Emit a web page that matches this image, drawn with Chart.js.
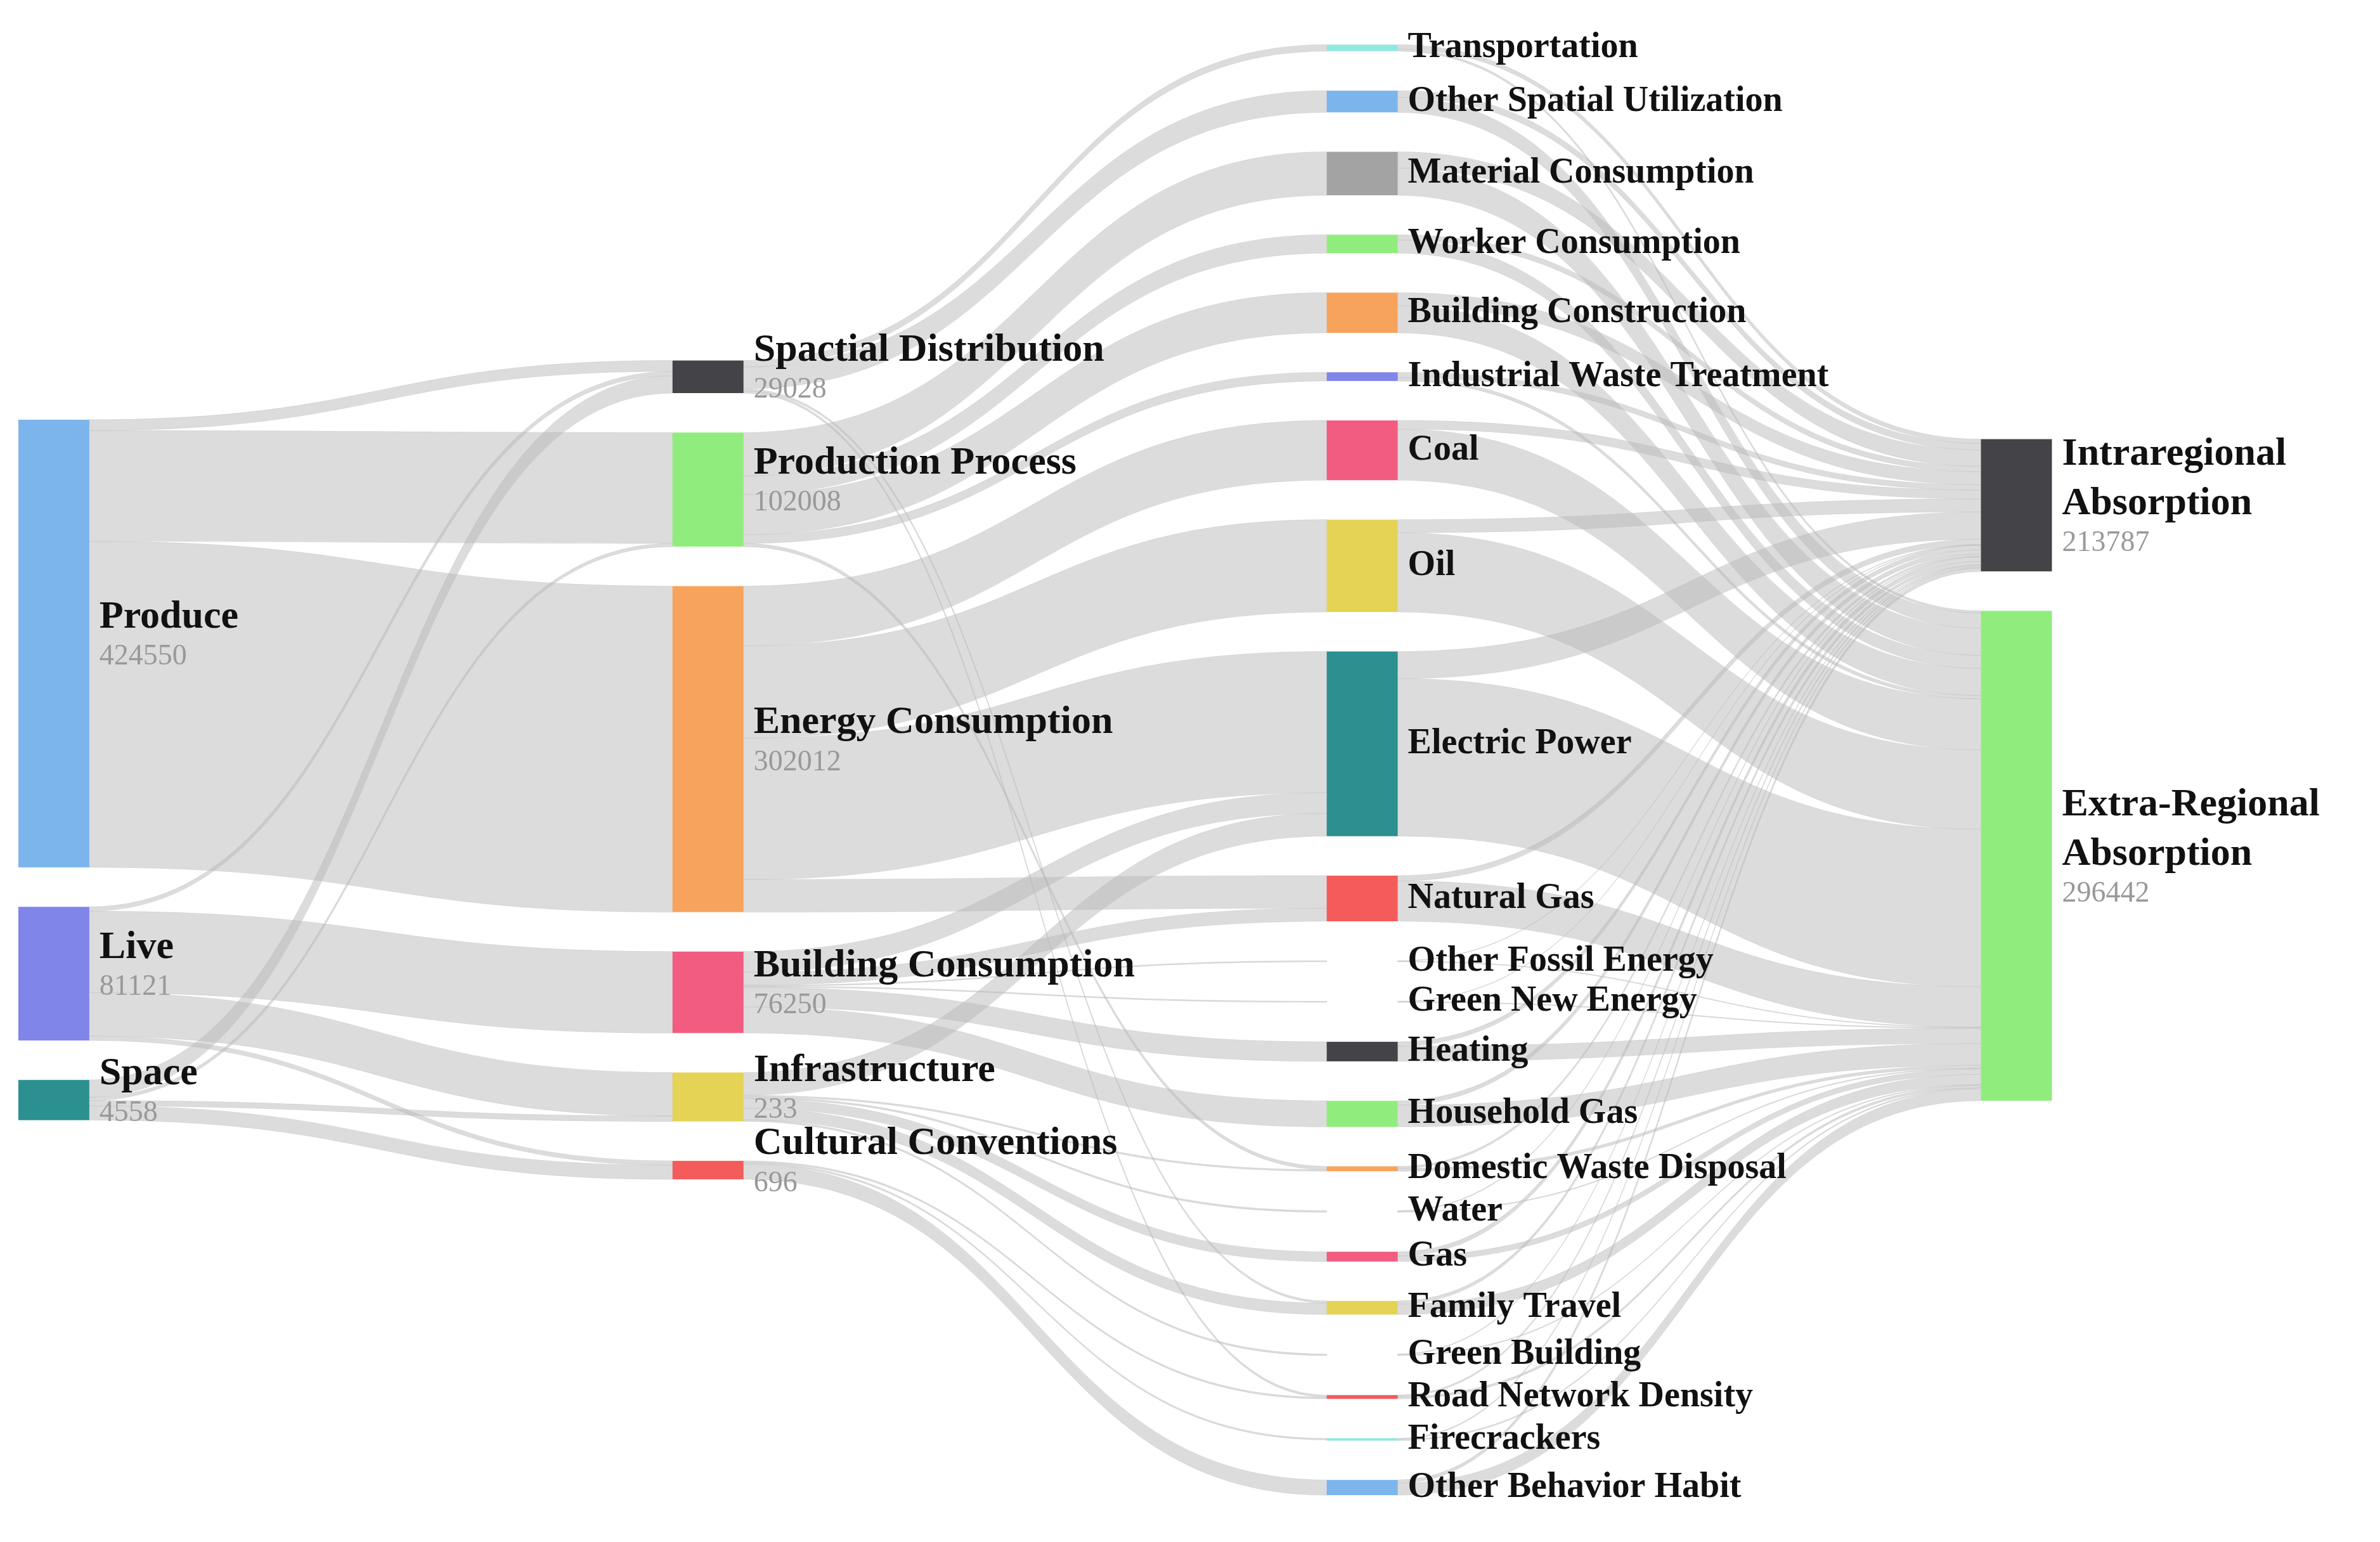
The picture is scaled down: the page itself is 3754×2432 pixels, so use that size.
<!DOCTYPE html>
<html><head><meta charset="utf-8">
<script src="https://cdn.jsdelivr.net/npm/chart.js@4"></script>
<style>html,body{margin:0;padding:0;background:#fff}canvas{display:block}</style>
</head><body>
<canvas id="c" width="3754" height="2432"></canvas>
<script>
const nodeNames = ["Produce","Live","Space",
 "Spactial Distribution","Production Process","Energy Consumption","Building Consumption","Infrastructure","Cultural Conventions",
 "Transportation","Other Spatial Utilization","Material Consumption","Worker Consumption","Building Construction","Industrial Waste Treatment",
 "Coal","Oil","Electric Power","Natural Gas","Other Fossil Energy","Green New Energy","Heating","Household Gas",
 "Domestic Waste Disposal","Water","Gas","Family Travel","Green Building","Road Network Density","Firecrackers","Other Behavior Habit",
 "Intraregional\nAbsorption","Extra-Regional\nAbsorption"];
const nodeColumns = [0,0,0, 1,1,1,1,1,1, 2,2,2,2,2,2,2,2,2,2,2,2,2,2,2,2,2,2,2,2,2,2, 3,3];
const nodeColors = ["#7cb5ec","#8085e9","#2b908f",
 "#434348","#90ed7d","#f7a35c","#f15c80","#e4d354","#f45b5b",
 "#91e8e1","#7cb5ec","#a3a3a3","#90ed7d","#f7a35c","#8085e9",
 "#f15c80","#e4d354","#2b908f","#f45b5b","#91e8e1","#7cb5ec","#434348","#90ed7d",
 "#f7a35c","#8085e9","#f15c80","#e4d354","#2b908f","#f45b5b","#91e8e1","#7cb5ec",
 "#434348","#90ed7d"];
const nodeValueLabels = {"Produce":"424550","Live":"81121","Space":"4558","Spactial Distribution":"29028",
 "Production Process":"102008","Energy Consumption":"302012","Building Consumption":"76250","Infrastructure":"233",
 "Cultural Conventions":"696","Intraregional\nAbsorption":"213787","Extra-Regional\nAbsorption":"296442"};

const linkSources = [
 "Produce","Produce","Produce","Live","Live","Live","Live","Space","Space","Space","Space",
 "Spactial Distribution","Spactial Distribution","Spactial Distribution","Spactial Distribution",
 "Production Process","Production Process","Production Process","Production Process","Production Process",
 "Energy Consumption","Energy Consumption","Energy Consumption","Energy Consumption",
 "Building Consumption","Building Consumption","Building Consumption","Building Consumption","Building Consumption","Building Consumption",
 "Infrastructure","Infrastructure","Infrastructure","Infrastructure","Infrastructure","Infrastructure",
 "Cultural Conventions","Cultural Conventions","Cultural Conventions"];
const linkTargets = [
 "Spactial Distribution","Production Process","Energy Consumption","Spactial Distribution","Building Consumption","Infrastructure","Cultural Conventions",
 "Spactial Distribution","Production Process","Infrastructure","Cultural Conventions",
 "Transportation","Other Spatial Utilization","Family Travel","Road Network Density",
 "Material Consumption","Worker Consumption","Building Construction","Industrial Waste Treatment","Domestic Waste Disposal",
 "Coal","Oil","Electric Power","Natural Gas",
 "Electric Power","Natural Gas","Other Fossil Energy","Green New Energy","Heating","Household Gas",
 "Electric Power","Gas","Domestic Waste Disposal","Water","Green Building","Family Travel",
 "Other Behavior Habit","Firecrackers","Road Network Density"];
const linkValues = [
 10000,102000,300000, 4000,75000,40000,4000, 16000,3000,5000,13000,
 6000,20000,2000,2000,
 40000,17000,37000,8000,3000,
 55000,85000,130000,30000,
 19000,12000,1000,1000,18000,24000,
 21000,9000,1500,1500,1500,10500,
 14000,1500,1500];

const col2Names = nodeNames.filter((n,i)=>nodeColumns[i]===2);
const intraValues = [4000,6000,15000,5000,12000,5000,8000,12000,25000,5000,400,400,4000,4000,2000,700,4000,3000,700,1500,1000,3000];
const extraValues = [2000,14000,25000,12000,25000,3000,47000,73000,145000,37000,600,600,14000,20000,2500,800,5000,9500,800,2000,1000,11000];
col2Names.forEach((n,i)=>{
  linkSources.push(n); linkTargets.push("Intraregional\nAbsorption"); linkValues.push(intraValues[i]);
  linkSources.push(n); linkTargets.push("Extra-Regional\nAbsorption"); linkValues.push(extraValues[i]);
});

// layout in value units
const PAD = 36300, CENTER = 708500, NODE_W = 0.1085;
const N = nodeNames.length;
const inSum = new Array(N).fill(0), outSum = new Array(N).fill(0);
const L = linkValues.map((v,k)=>({s:nodeNames.indexOf(linkSources[k]), t:nodeNames.indexOf(linkTargets[k]), v}));
L.forEach(l=>{outSum[l.s]+=l.v; inSum[l.t]+=l.v;});
const nodeVal = nodeNames.map((n,i)=>Math.max(inSum[i],outSum[i]));
const nodeY0 = new Array(N);
for (let c=0;c<4;c++){
  const idx = nodeNames.map((n,i)=>i).filter(i=>nodeColumns[i]===c);
  const total = idx.reduce((a,i)=>a+nodeVal[i],0)+PAD*(idx.length-1);
  let y = CENTER-total/2;
  idx.forEach(i=>{nodeY0[i]=y; y+=nodeVal[i]+PAD;});
}
// link offsets
const outOrder = {}, inOrder = {};
L.forEach(l=>{l.sy=0;l.ty=0;});
for (let i=0;i<N;i++){
  let off = nodeY0[i];
  L.filter(l=>l.s===i).sort((a,b)=>nodeY0[a.t]-nodeY0[b.t]).forEach(l=>{l.sy=off; off+=l.v;});
  off = nodeY0[i];
  L.filter(l=>l.t===i).sort((a,b)=>nodeY0[a.s]-nodeY0[b.s]).forEach(l=>{l.ty=off; off+=l.v;});
}

const sankeyPlugin = {
  id:'sankey',
  afterDatasetsDraw(chart){
    const ctx = chart.ctx, xs = chart.scales.x, ys = chart.scales.y;
    ctx.save();
    // links
    L.forEach(l=>{
      const x0 = xs.getPixelForValue(nodeColumns[l.s]+NODE_W), x1 = xs.getPixelForValue(nodeColumns[l.t]);
      const a0 = ys.getPixelForValue(l.sy), a1 = ys.getPixelForValue(l.sy+l.v);
      const b0 = ys.getPixelForValue(l.ty), b1 = ys.getPixelForValue(l.ty+l.v);
      const mx = (x0+x1)/2;
      ctx.beginPath();
      ctx.moveTo(x0,a0);
      ctx.bezierCurveTo(mx,a0,mx,b0,x1,b0);
      ctx.lineTo(x1,b1);
      ctx.bezierCurveTo(mx,b1,mx,a1,x0,a1);
      ctx.closePath();
      ctx.fillStyle='rgba(185,185,185,0.5)';
      ctx.fill();
      ctx.strokeStyle='rgba(185,185,185,0.35)'; ctx.lineWidth=1; ctx.stroke();
    });
    // nodes + labels
    for (let i=0;i<N;i++){
      const c = nodeColumns[i];
      const x0 = xs.getPixelForValue(c), x1 = xs.getPixelForValue(c+NODE_W);
      let y0 = ys.getPixelForValue(nodeY0[i]), y1 = ys.getPixelForValue(nodeY0[i]+nodeVal[i]);
      if (y1-y0<4){ const m=(y0+y1)/2; y0=m-2; y1=m+2; }
      ctx.fillStyle = nodeColors[i];
      if (nodeVal[i]>1500) ctx.fillRect(x0,y0,x1-x0,y1-y0);
      const cy = (y0+y1)/2, lx = x1+16;
      const lines = nodeNames[i].split("\n");
      const num = nodeValueLabels[nodeNames[i]];
      ctx.textBaseline='middle'; ctx.textAlign='left';
      if (c===2){
        ctx.font='bold 56px "Liberation Serif"'; ctx.fillStyle='#111';
        ctx.fillText(lines[0],lx,cy);
      } else {
        const lh = 78, nh = 62;
        const total = lines.length*lh + nh;
        let y = cy - total/2 + lh/2 - 10;
        ctx.font='bold 62px "Liberation Serif"'; ctx.fillStyle='#111';
        lines.forEach(t=>{ctx.fillText(t,lx,y); y+=lh;});
        ctx.font='46px "Liberation Serif"'; ctx.fillStyle='#999';
        ctx.fillText(num,lx,y-lh/2+nh/2-8);
      }
    }
    ctx.restore();
  }
};

new Chart(document.getElementById('c'),{
  type:'scatter',
  data:{datasets:[{data:[]}]},
  options:{
    responsive:false, animation:false, devicePixelRatio:1,
    layout:{padding:0},
    plugins:{legend:{display:false},tooltip:{enabled:false}},
    scales:{
      x:{type:'linear',min:-0.028,max:3.61,display:false},
      y:{type:'linear',min:0,max:1419000,reverse:true,display:false}
    }
  },
  plugins:[sankeyPlugin]
});
</script>
</body></html>
